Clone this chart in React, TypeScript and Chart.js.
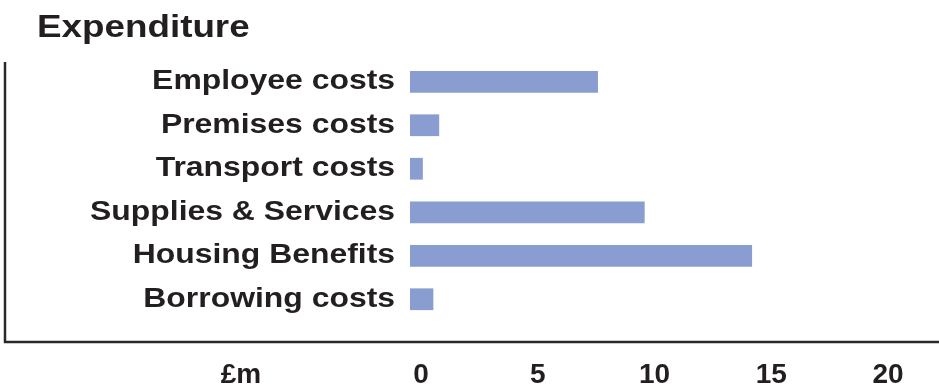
import React, { useEffect, useRef } from "react";
import { Chart, registerables } from "chart.js";

Chart.register(...registerables);

const categories = [
  "Employee costs",
  "Premises costs",
  "Transport costs",
  "Supplies & Services",
  "Housing Benefits",
  "Borrowing costs",
];
const values = [8.05, 1.25, 0.55, 10.05, 14.65, 1.0];
const xTicks = [0, 5, 10, 15, 20];
const titleText = "Expenditure";
const unitText = "£m";

const FONT = "'Liberation Sans', Arial, Helvetica, sans-serif";
const TEXT = "#231f20";
const BAR = "#8a9dd0";

const LABEL_SIZE = 27.5;
const TITLE_SIZE = 32;
const TICK_SIZE = 28;

// horizontal text stretch per font size (the reference lettering is wide)
const stretchFor = (font: string) => {
  const m = /(\d+(?:\.\d+)?)px/.exec(font || "");
  const size = m ? parseFloat(m[1]) : 0;
  if (size === LABEL_SIZE) return 1.16;
  if (size === TITLE_SIZE) return 1.15;
  return 1;
};

function patchContext(ctx: any) {
  if (ctx.__stretched) return;
  const orig = ctx.fillText.bind(ctx);
  ctx.fillText = (text: string, x: number, y: number, maxWidth?: number) => {
    const sx = stretchFor(ctx.font);
    if (sx === 1) {
      if (maxWidth === undefined) orig(text, x, y);
      else orig(text, x, y, maxWidth);
      return;
    }
    ctx.save();
    ctx.translate(x, y);
    ctx.scale(sx, 1);
    orig(text, 0, 0);
    ctx.restore();
  };
  ctx.__stretched = true;
}

const decorPlugin = {
  id: "decor",
  afterDraw(chart: any) {
    const ctx = chart.ctx as any;
    ctx.save();
    // frame lines
    ctx.strokeStyle = "#2b2829";
    ctx.lineWidth = 2.5;
    ctx.beginPath();
    ctx.moveTo(5, 62);
    ctx.lineTo(5, 342);
    ctx.lineTo(chart.width, 342);
    ctx.stroke();
    // title
    ctx.fillStyle = TEXT;
    ctx.font = `bold ${TITLE_SIZE}px ${FONT}`;
    ctx.textAlign = "left";
    ctx.textBaseline = "alphabetic";
    ctx.fillText(titleText, 37, 37);
    // unit label
    ctx.font = `bold ${TICK_SIZE}px ${FONT}`;
    ctx.textAlign = "center";
    ctx.textBaseline = "middle";
    ctx.fillText(unitText, 241, 375);
    ctx.restore();
  },
};

export default function App() {
  const ref = useRef<HTMLCanvasElement | null>(null);

  useEffect(() => {
    document.body.style.margin = "0";
    const canvas = ref.current;
    if (!canvas) return;
    patchContext(canvas.getContext("2d"));
    const chart = new Chart(canvas, {
      type: "bar",
      data: {
        labels: categories,
        datasets: [
          {
            data: values,
            backgroundColor: BAR,
            borderWidth: 0,
            barPercentage: 0.5,
            categoryPercentage: 1,
          },
        ],
      },
      options: {
        indexAxis: "y",
        animation: false,
        responsive: false,
        maintainAspectRatio: false,
        layout: { padding: { top: 60, right: 62, left: 0, bottom: 0 } },
        plugins: {
          legend: { display: false },
          title: { display: false },
          tooltip: { enabled: false },
        },
        scales: {
          x: {
            type: "linear",
            min: 0,
            max: 20,
            afterBuildTicks: (scale: any) => {
              scale.ticks = xTicks.map((v) => ({ value: v }));
            },
            afterFit: (scale: any) => {
              scale.height = 68;
            },
            grid: { display: false, drawTicks: false, tickLength: 0 },
            border: { display: false },
            ticks: {
              color: TEXT,
              font: { family: FONT, size: TICK_SIZE, weight: "bold" },
              padding: 37,
              labelOffset: 11,
              maxRotation: 0,
              autoSkip: false,
            },
          },
          y: {
            type: "category",
            afterFit: (scale: any) => {
              scale.width = 410;
            },
            grid: { display: false, drawTicks: false, tickLength: 0 },
            border: { display: false },
            ticks: {
              color: TEXT,
              font: { family: FONT, size: LABEL_SIZE, weight: "bold" },
              padding: 15,
              autoSkip: false,
            },
          },
        },
      },
      plugins: [decorPlugin],
    });
    return () => chart.destroy();
  }, []);

  return (
    <div style={{ width: 939, height: 389, position: "relative" }}>
      <canvas ref={ref} width={939} height={389} style={{ display: "block" }} />
    </div>
  );
}
